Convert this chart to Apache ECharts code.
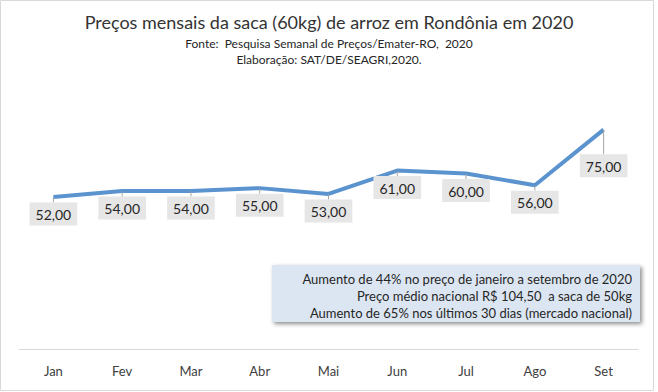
<!DOCTYPE html>
<html>
<head>
<meta charset="utf-8">
<script src="https://cdn.jsdelivr.net/npm/echarts@6/dist/echarts.min.js"></script>
<style>
html,body{margin:0;padding:0;background:#fff;}
#chart{width:658px;height:392px;}
</style>
</head>
<body>
<div id="chart"></div>
<script>
const months = ['Jan','Fev','Mar','Abr','Mai','Jun','Jul','Ago','Set'];
const prices = [52, 54, 54, 55, 53, 61, 60, 56, 75];
const titleText = 'Preços mensais da saca (60kg) de arroz em Rondônia em 2020';
const subtitleLines = ['Fonte:  Pesquisa Semanal de Preços/Emater-RO,  2020', 'Elaboração: SAT/DE/SEAGRI,2020.'];
const noteLines = [
  'Aumento de 44% no preço de janeiro a setembro de 2020',
  'Preço médio nacional R$ 104,50  a saca de 50kg',
  'Aumento de 65% nos últimos 30 dias (mercado nacional)'
];

const FONT = 'Lato, "Open Sans", sans-serif';
const chart = echarts.init(document.getElementById('chart'), null, {renderer: 'svg'});
chart.setOption({
  backgroundColor: '#fff',
  animation: false,
  title: {
    text: titleText,
    subtext: subtitleLines.join('\n'),
    left: 'center',
    top: 8,
    itemGap: 4,
    textStyle: {fontFamily: FONT, fontSize: 18, fontWeight: 'normal', color: '#333333'},
    subtextStyle: {fontFamily: FONT, fontSize: 12, color: '#262626', lineHeight: 16}
  },
  grid: {left: 19, right: 20, top: 115, bottom: 43},
  xAxis: {
    type: 'category',
    data: months,
    boundaryGap: true,
    axisLine: {lineStyle: {color: '#d9d9d9', width: 1}},
    axisTick: {show: false},
    axisLabel: {fontFamily: FONT, fontSize: 13, color: '#404040', margin: 15}
  },
  yAxis: {
    type: 'value', min: 0, max: 80,
    show: false,
    splitLine: {show: false}
  },
  series: [{
    type: 'line',
    data: prices,
    symbol: 'circle',
    symbolSize: 1,
    showSymbol: true,
    itemStyle: {color: 'rgba(0,0,0,0)'},
    lineStyle: {color: '#5b93cf', width: 4},
    label: {
      show: true,
      position: 'bottom',
      distance: 5,
      formatter: p => p.value.toFixed(2).replace('.', ','),
      fontFamily: FONT,
      fontSize: 14,
      color: '#262626',
      backgroundColor: '#e6e6e6',
      padding: [5, 6, 4, 6]
    },
    labelLine: {show: true, lineStyle: {color: '#a6a6a6', width: 1}},
    labelLayout: function (params) {
      if (params.dataIndex === prices.length - 1) {
        return {dy: 19};
      }
      return {};
    }
  }],
  graphic: [
    {
      type: 'rect',
      shape: {x: 0.5, y: 0.5, width: 653, height: 390},
      style: {fill: 'none', stroke: '#d9d9d9', lineWidth: 1},
      silent: true
    },
    {
      type: 'rect',
      shape: {x: 272, y: 265, width: 368, height: 57},
      style: {
        fill: '#dce6f2',
        shadowBlur: 4,
        shadowOffsetX: 2,
        shadowOffsetY: 2,
        shadowColor: 'rgba(0,0,0,0.45)'
      },
      silent: true
    },
    {
      type: 'text',
      x: 632,
      y: 270,
      style: {
        text: noteLines.join('\n'),
        font: '13px ' + FONT,
        fill: '#262626',
        align: 'right',
        lineHeight: 17
      },
      silent: true
    }
  ]
});
</script>
</body>
</html>
